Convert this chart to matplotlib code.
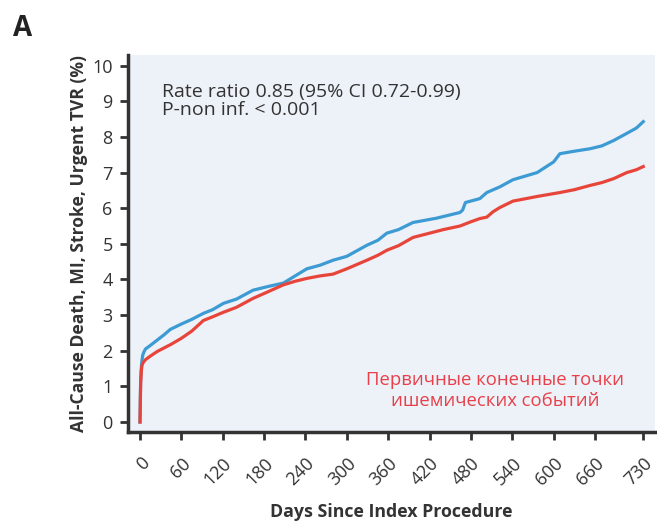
import matplotlib
matplotlib.use("Agg")
import matplotlib.pyplot as plt

# ---- data ----
days_blue = [0, 0.5, 1, 2, 3, 4, 6, 8, 15, 25, 35, 44, 60, 75, 92, 105, 121, 140, 164, 185,
             208, 225, 242, 261, 280, 300, 329, 345, 358, 375, 396, 430, 464, 468, 472, 493,
             503, 522, 541, 576, 600, 609, 630, 653, 670, 687, 706, 720, 730]
vals_blue = [0, 0.7, 1.2, 1.55, 1.75, 1.88, 1.98, 2.05, 2.15, 2.3, 2.45, 2.6, 2.75, 2.88, 3.05,
             3.15, 3.33, 3.45, 3.7, 3.8, 3.9, 4.1, 4.3, 4.4, 4.54, 4.65, 4.96, 5.1, 5.3, 5.4,
             5.6, 5.72, 5.88, 5.95, 6.16, 6.27, 6.44, 6.6, 6.8, 7.0, 7.3, 7.53, 7.6, 7.67,
             7.75, 7.9, 8.1, 8.25, 8.43]

days_red = [0, 0.5, 1, 2, 3, 5, 8, 15, 25, 35, 45, 60, 75, 92, 105, 121, 140, 164, 185, 208,
            225, 242, 261, 280, 300, 329, 345, 358, 375, 396, 420, 440, 464, 480, 493, 503,
            512, 522, 541, 560, 576, 609, 630, 653, 670, 687, 706, 720, 730]
vals_red = [0, 0.6, 1.1, 1.45, 1.6, 1.68, 1.75, 1.85, 1.98, 2.08, 2.18, 2.35, 2.55, 2.85, 2.95,
            3.08, 3.22, 3.47, 3.65, 3.85, 3.95, 4.03, 4.1, 4.15, 4.3, 4.54, 4.68, 4.82, 4.95,
            5.18, 5.3, 5.4, 5.5, 5.62, 5.71, 5.75, 5.9, 6.02, 6.2, 6.27, 6.33, 6.44, 6.52,
            6.64, 6.72, 6.83, 7.0, 7.08, 7.17]

x_ticks = [0, 60, 120, 180, 240, 300, 360, 420, 480, 540, 600, 660, 730]
y_ticks = list(range(0, 11))

plt.rcParams['font.family'] = ['Open Sans', 'DejaVu Sans']

fig = plt.figure(figsize=(6.57, 5.23), dpi=100)
ax = fig.add_axes([128/657, 1-432/523, (655-128)/657, (432-55)/523])
ax.set_facecolor('#edf1f8')

ax.plot(days_blue, vals_blue, color='#3d9bd4', lw=2.3, solid_joinstyle='round')
ax.plot(days_red, vals_red, color='#e8453a', lw=2.3, solid_joinstyle='round')

ax.set_xlim(-17.4, 747)
ax.set_ylim(-0.28, 10.3)
ax.set_xticks(x_ticks)
ax.set_yticks(y_ticks)
ax.set_xticklabels([str(t) for t in x_ticks], rotation=45, ha='right',
                   rotation_mode='anchor', fontsize=13, color='#333333')
ax.set_yticklabels([str(t) for t in y_ticks], fontsize=13, color='#333333')
ax.tick_params(axis='both', direction='out', length=6, width=2, color='#333333')
ax.tick_params(axis='x', pad=10)
ax.tick_params(axis='y', pad=5)
for s in ['top', 'right']:
    ax.spines[s].set_visible(False)
for s in ['left', 'bottom']:
    ax.spines[s].set_color('#333333')
    ax.spines[s].set_linewidth(2.5)

ax.set_xlabel('Days Since Index Procedure', fontsize=12.8, fontweight='bold',
              color='#333333', labelpad=10)
ax.set_ylabel('All-Cause Death, MI, Stroke, Urgent TVR (%)', fontsize=12.6,
              fontweight='bold', color='#333333', labelpad=3)

ax.text(0.065, 0.925, 'Rate ratio 0.85 (95% CI 0.72-0.99)\nP-non inf. < 0.001',
        transform=ax.transAxes, fontsize=14, color='#333333', va='top', ha='left',
        linespacing=1.0)
ax.text(0.696, 0.11, 'Первичные конечные точки\nишемических событий',
        transform=ax.transAxes, fontsize=13.3, color='#e8404a', va='center', ha='center',
        linespacing=1.15)

fig.text(13/657, 1-36/523, 'A', fontsize=20, fontweight='bold', color='#222222',
         ha='left', va='baseline')

fig.savefig('out.png', dpi=100, facecolor='white')
